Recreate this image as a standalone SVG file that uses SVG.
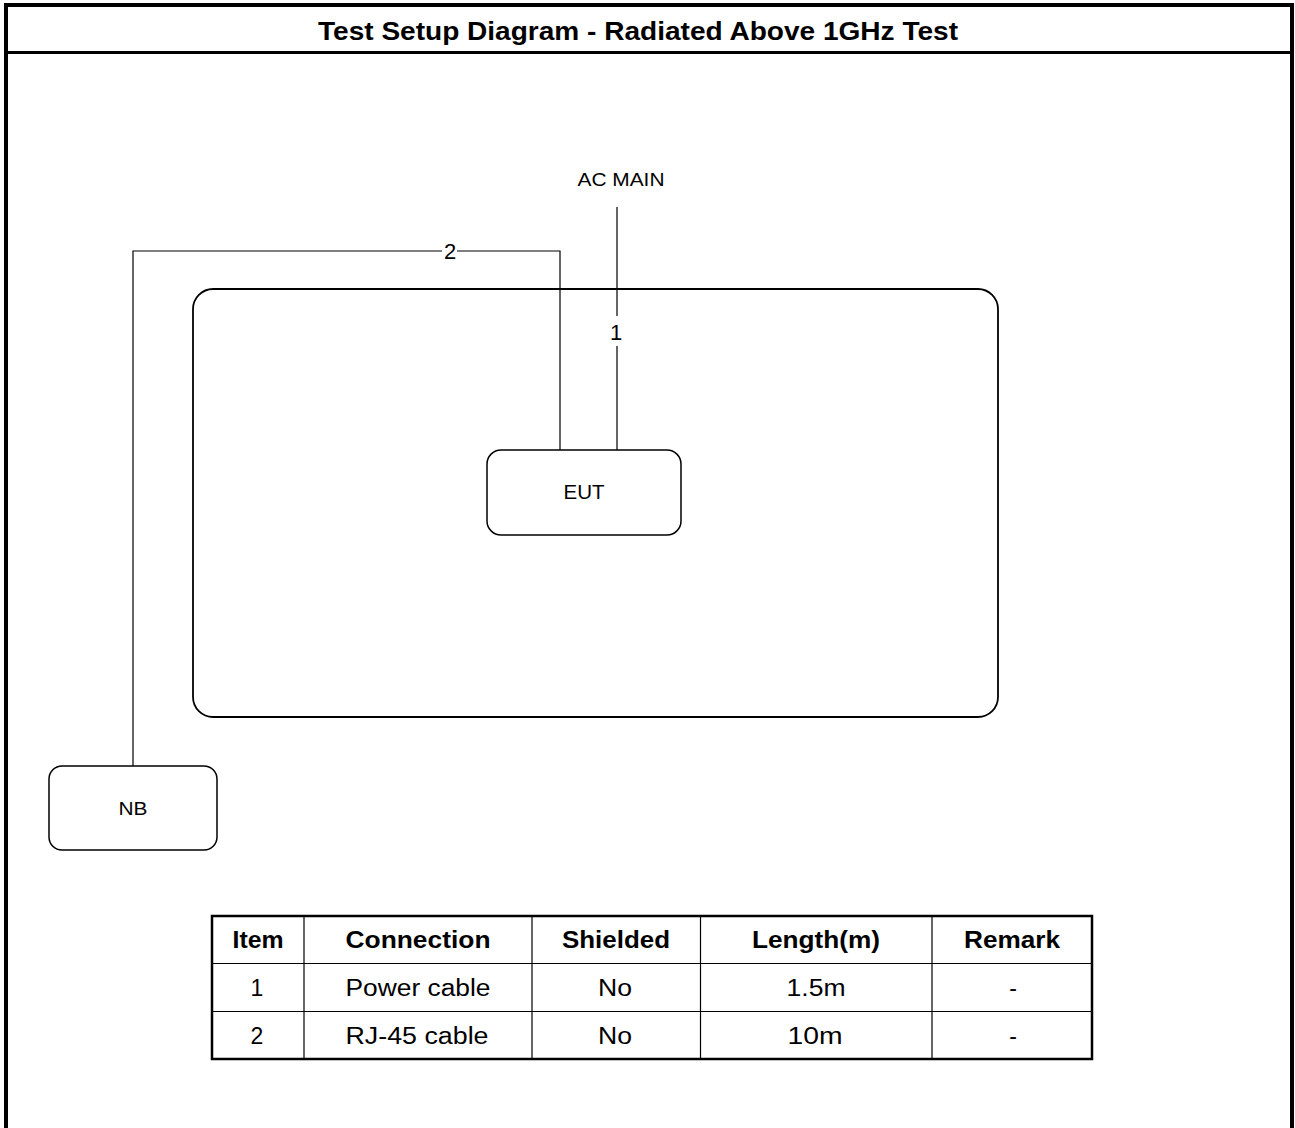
<svg xmlns="http://www.w3.org/2000/svg" width="1295" height="1128" viewBox="0 0 1295 1128">
<style>
.frame{fill:none;stroke:#000;stroke-width:4}
.box{fill:#fff;stroke:#000;stroke-width:1.5}
.wire{fill:none;stroke:#000;stroke-width:1.2}
.lbl{font-family:"Liberation Sans",Arial,sans-serif;font-size:19px;fill:#000;text-anchor:middle}
.num{font-family:"Liberation Sans",Arial,sans-serif;font-size:22px;fill:#000;text-anchor:middle}
.th{font-family:"Liberation Sans",Arial,sans-serif;font-size:23px;font-weight:bold;fill:#000;text-anchor:middle}
.td{font-family:"Liberation Sans",Arial,sans-serif;font-size:23px;fill:#000;text-anchor:middle}
.grid{stroke:#000;stroke-width:1.2}
</style>
<rect width="1295" height="1128" fill="#fff"/>
<g id="frame">
<path class="frame" d="M6,1128 V5 H1292 V1128"/>
<line x1="6" y1="52.5" x2="1292" y2="52.5" stroke="#000" stroke-width="3"/>
<text x="638" y="40" class="th" style="font-size:25px" textLength="640" lengthAdjust="spacingAndGlyphs">Test Setup Diagram - Radiated Above 1GHz Test</text>
</g>
<g id="table-area">
<rect class="box" x="193" y="289" width="805" height="428" rx="20" ry="20" style="stroke-width:1.8"/>
</g>
<g id="connectors">
<path class="wire" d="M617,207 V316 M617,346 V450"/>
<path class="wire" d="M560,450 V251 H457 M442,251 H133 V766"/>
<text x="616" y="340" class="num">1</text>
<text x="450" y="259" class="num">2</text>
</g>
<g id="ac-main">
<text x="621" y="186" class="lbl" style="font-size:18px" textLength="87" lengthAdjust="spacingAndGlyphs">AC MAIN</text>
</g>
<g id="eut">
<rect class="box" x="487" y="450" width="194" height="85" rx="14" ry="14"/>
<text x="584" y="499" class="lbl" style="font-size:20px" textLength="41" lengthAdjust="spacingAndGlyphs">EUT</text>
</g>
<g id="nb">
<rect class="box" x="49" y="766" width="168" height="84" rx="13" ry="13"/>
<text x="133" y="815" class="lbl" textLength="29" lengthAdjust="spacingAndGlyphs">NB</text>
</g>
<g id="cable-table">
<rect x="212" y="916" width="880" height="143" fill="none" stroke="#000" stroke-width="2.5"/>
<line class="grid" x1="212" y1="963.5" x2="1092" y2="963.5"/>
<line class="grid" x1="212" y1="1011.5" x2="1092" y2="1011.5"/>
<line class="grid" x1="304" y1="916" x2="304" y2="1059"/>
<line class="grid" x1="532" y1="916" x2="532" y2="1059"/>
<line class="grid" x1="700.5" y1="916" x2="700.5" y2="1059"/>
<line class="grid" x1="932" y1="916" x2="932" y2="1059"/>
<text x="258" y="948" class="th" textLength="51" lengthAdjust="spacingAndGlyphs">Item</text>
<text x="418" y="948" class="th" textLength="145" lengthAdjust="spacingAndGlyphs">Connection</text>
<text x="616" y="948" class="th" textLength="108" lengthAdjust="spacingAndGlyphs">Shielded</text>
<text x="816" y="948" class="th" textLength="128" lengthAdjust="spacingAndGlyphs">Length(m)</text>
<text x="1012" y="948" class="th" textLength="96" lengthAdjust="spacingAndGlyphs">Remark</text>
<text x="257" y="996" class="td">1</text>
<text x="418" y="996" class="td" textLength="145" lengthAdjust="spacingAndGlyphs">Power cable</text>
<text x="615" y="996" class="td" textLength="34" lengthAdjust="spacingAndGlyphs">No</text>
<text x="816" y="996" class="td" textLength="59" lengthAdjust="spacingAndGlyphs">1.5m</text>
<text x="1013" y="996" class="td">-</text>
<text x="257" y="1044" class="td">2</text>
<text x="417" y="1044" class="td" textLength="143" lengthAdjust="spacingAndGlyphs">RJ-45 cable</text>
<text x="615" y="1044" class="td" textLength="34" lengthAdjust="spacingAndGlyphs">No</text>
<text x="815" y="1044" class="td" textLength="55" lengthAdjust="spacingAndGlyphs">10m</text>
<text x="1013" y="1044" class="td">-</text>
</g>
</svg>
